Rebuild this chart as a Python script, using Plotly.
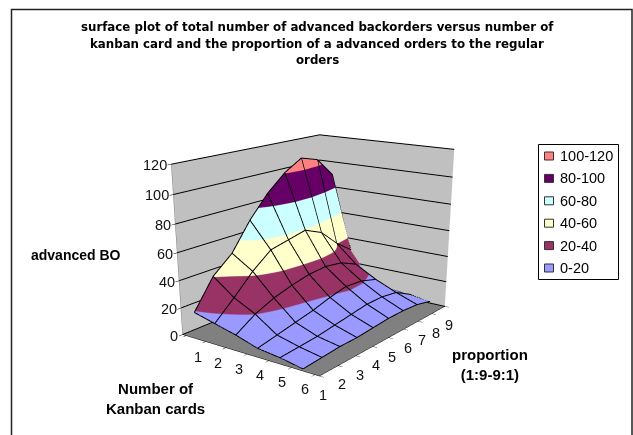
import plotly.graph_objects as go

kanban = [1, 2, 3, 4, 5, 6]
proportion = [1, 2, 3, 4, 5, 6, 7, 8, 9]
advanced_bo = [
    [19, 40, 52, 72, 88, 100, 108, 104, 89],
    [15, 28, 42, 53, 56, 59, 53, 40, 30],
    [11, 20, 26, 30, 33, 34, 32, 26, 9],
    [6, 9, 12, 15, 19, 22, 21, 17, 4],
    [4, 5, 6, 8, 10, 12, 12, 10, 3],
    [1, 2, 3, 3, 4, 5, 5, 4, 1],
]
band_labels = ["100-120", "80-100", "60-80", "40-60", "20-40", "0-20"]
band_colors = ["#FF8080", "#660066", "#CCFFFF", "#FFFFCC", "#993366", "#9999FF"]
z_ticks = [0, 20, 40, 60, 80, 100, 120]
title_lines = ["surface plot of total number of advanced backorders versus number of",
               "kanban card and the proportion of a advanced orders to the regular",
               "orders"]

FONT = "Liberation Sans, Arial, sans-serif"
TICK = 14.5
LIFT = 0.5
low_first = band_colors[::-1]
scale = []
for i, c in enumerate(low_first):
    scale += [[i / 6, c], [(i + 1) / 6, c]]

fig = go.Figure(go.Surface(
    x=proportion, y=kanban, z=advanced_bo, surfacecolor=advanced_bo,
    colorscale=scale, cmin=0, cmax=120, showscale=False,
    lighting=dict(ambient=1, diffuse=0, specular=0, roughness=1, fresnel=0),
    contours=dict(x=dict(highlight=False), y=dict(highlight=False), z=dict(highlight=False)),
    hoverinfo="skip"))

# mesh lines along both directions, drawn from the same data
mx, my, mz = [], [], []
for i, k in enumerate(kanban):
    for j, p in enumerate(proportion):
        mx.append(p); my.append(k); mz.append(advanced_bo[i][j] + LIFT)
    mx.append(None); my.append(None); mz.append(None)
for j, p in enumerate(proportion):
    for i, k in enumerate(kanban):
        mx.append(p); my.append(k); mz.append(advanced_bo[i][j] + LIFT)
    mx.append(None); my.append(None); mz.append(None)
fig.add_trace(go.Scatter3d(x=mx, y=my, z=mz, mode="lines", line=dict(color="black", width=2),
                           hoverinfo="skip", showlegend=False))

anns3d = []
for k in kanban:
    anns3d.append(dict(x=1, y=k, z=0, text=str(k), showarrow=False, xshift=2, yshift=-18,
                       font=dict(family=FONT, size=TICK, color="#111111")))
for p in proportion:
    anns3d.append(dict(x=p, y=6.5, z=0, text=str(p), showarrow=False, xshift=8, yshift=-20,
                       font=dict(family=FONT, size=TICK, color="#111111")))
for v in z_ticks:
    anns3d.append(dict(x=1, y=0.5, z=v, text=str(v), showarrow=False, xanchor="right", yanchor="middle",
                       xshift=-6, font=dict(family=FONT, size=TICK, color="#111111")))

def ax(vals, rng, back, showgrid=False):
    return dict(range=rng, tickvals=vals, ticktext=[""] * len(vals), ticks="outside", ticklen=4,
                tickcolor="black", showline=True, linecolor="black", linewidth=1, showgrid=showgrid,
                gridcolor="black", showbackground=True, backgroundcolor=back, title=dict(text=""),
                zeroline=False, showspikes=False)

W, H = 633, 700
fig.update_layout(
    width=W, height=H, autosize=False, showlegend=False,
    paper_bgcolor="white", margin=dict(l=0, r=0, t=0, b=0),
    font=dict(family=FONT, size=13, color="black"),
    scene=dict(
        domain=dict(x=[0.01, 1.0], y=[0.0, 1.0]),
        xaxis=ax(proportion, [1, 9], "#C0C0C0"),
        yaxis=dict(ax([i + 0.5 for i in range(0, 7)], [0.5, 6.5], "#C0C0C0"), autorange="reversed"),
        zaxis=dict(range=[0, 120], tickvals=z_ticks, ticktext=[""] * len(z_ticks), ticks="outside", ticklen=4, tickcolor="black",
                   showline=True, linecolor="#808080", showgrid=True, gridcolor="black",
                   showbackground=True, backgroundcolor="#808080", title=dict(text=""),
                   showspikes=False, zeroline=False),
        aspectmode="manual", aspectratio=dict(x=1.03, y=0.76, z=0.755),
        camera=dict(eye=dict(x=-2.98, y=-2.2, z=1.0), center=dict(x=0, y=0, z=-0.53), up=dict(x=0, y=0, z=1)),
        annotations=anns3d),
)

def px(x): return x / W
def py(y): return 1 - y / H

def note(x, y, text, size, family=FONT, xanchor="center"):
    return dict(xref="paper", yref="paper", x=px(x), y=py(y), text=text, showarrow=False,
                xanchor=xanchor, yanchor="middle", font=dict(family=family, size=size))

anns = [note(317, y, f"<b>{line}</b>", 11.8, "DejaVu Sans") for line, y in zip(title_lines, [27, 44, 60])]
anns.append(note(76, 255, "<b>advanced BO</b>", 14))
anns.append(note(155, 399, "<b>Number of<br>Kanban cards</b>", 15))
anns.append(note(490, 364, "<b>proportion<br>(1:9-9:1)</b>", 15))

shapes = [dict(type="rect", xref="paper", yref="paper", x0=px(538.5), x1=px(618.5), y0=py(144.5), y1=py(279.5),
               line=dict(color="black", width=1), fillcolor="white"),
          dict(type="path", xref="paper", yref="paper",
               path=f"M {px(11.5)} {py(435)} L {px(11.5)} {py(9.5)} L {px(632)} {py(9.5)} L {px(632)} {py(435)}",
               line=dict(color="#222222", width=1.5))]
for i, (lab, col) in enumerate(zip(band_labels, band_colors)):
    yc = 156 + i * 22.4
    shapes.append(dict(type="rect", xref="paper", yref="paper", x0=px(544.5), x1=px(553.5), y0=py(yc - 4), y1=py(yc + 4),
                       line=dict(color="#333333", width=1), fillcolor=col))
    anns.append(note(558, yc, lab, TICK, xanchor="left"))
fig.update_layout(annotations=anns, shapes=shapes)
fig.write_html("out.html", config=dict(displayModeBar=False),
               post_script="document.documentElement.style.overflow='hidden';document.body.style.cssText='margin:0;overflow:hidden;height:435px';")
